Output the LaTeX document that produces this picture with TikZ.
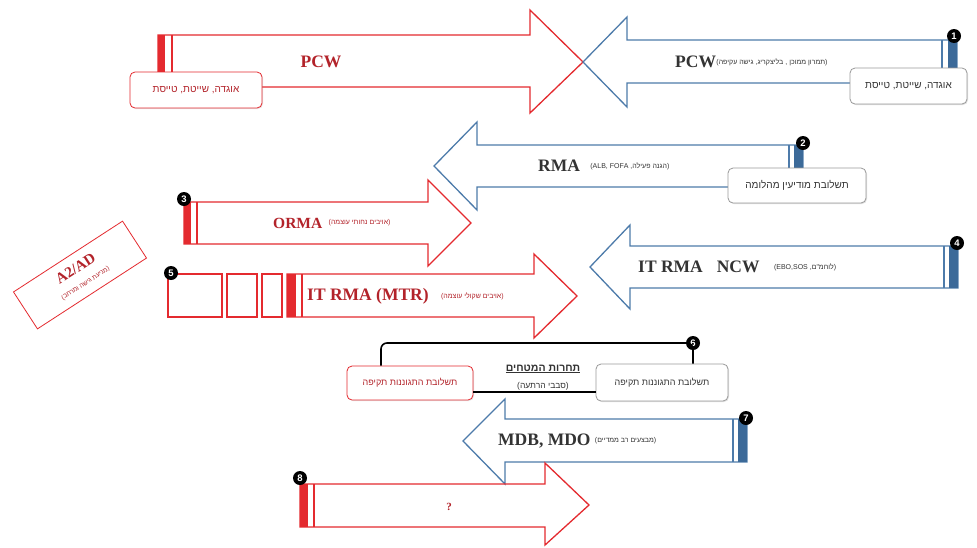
\documentclass[tikz,border=0pt]{standalone}
\usepackage{fontspec}
\setmainfont{Liberation Serif}
\newfontfamily\heb[Script=Hebrew]{Liberation Sans}
\newfontfamily\numf{Liberation Sans}
\newcommand\hlp{{\numf(}}
\newcommand\hrp{{\numf)}}
\TeXXeTstate=1
\usetikzlibrary{shadows}
\definecolor{ared}{HTML}{E42A2F}
\definecolor{tred}{HTML}{B3232A}
\definecolor{ablue}{HTML}{4D7BAA}
\definecolor{bbar}{HTML}{3C6A99}
\definecolor{tgray}{HTML}{333333}
\definecolor{boxgray}{HTML}{9A9A9A}
\begin{document}
\begin{tikzpicture}[x=1pt,y=-1pt,
  redline/.style={draw=ared, line width=1.3pt, line join=miter},
  blueline/.style={draw=ablue, line width=1.3pt, line join=miter},
  redthin/.style={draw=ared, line width=1.1pt},
  bluethin/.style={draw=ablue, line width=1.1pt},
  numc/.style={circle, fill=black, text=white, inner sep=0pt, minimum size=14pt, font=\numf\bfseries\fontsize{9.5}{9.5}\selectfont},
  ttl/.style={font=\bfseries\fontsize{17.5}{17.5}\selectfont, inner sep=0pt},
  hsmall/.style={font=\heb\fontsize{7}{8}\selectfont, inner sep=0pt},
  graybox/.style={draw=boxgray, line width=0.8pt, rounded corners=5pt, fill=white, text=tgray, inner sep=0pt,
     drop shadow={opacity=0.25, shadow xshift=1pt, shadow yshift=-1pt}, font=\heb\fontsize{10}{11}\selectfont},
  redbox/.style={draw=ared, line width=0.8pt, rounded corners=5pt, fill=white, text=tred, inner sep=0pt,
     drop shadow={opacity=0.2, shadow xshift=1pt, shadow yshift=-1pt}, font=\heb\fontsize{10}{11}\selectfont}
]
\useasboundingbox (0,0) rectangle (977,547);
\fill[white] (0,0) rectangle (977,547);

% ---------- Arrow 1 (red, PCW) ----------
\draw[redline] (158,35) -- (530,35) -- (530,10) -- (583,62) -- (530,113) -- (530,87) -- (158,87) -- cycle;
\fill[ared] (158,35) rectangle (165,87);
\draw[redthin] (172,35) -- (172,87);
\node[redbox, minimum width=132pt, minimum height=36pt] (b1l) at (196,90) {\beginR אוגדה, שייטת, טייסת\endR};
\node[ttl, text=tred] (t1l) at (321,62) {PCW};

% ---------- Arrow 1 (blue, PCW) ----------
\draw[blueline] (957,40) -- (627,40) -- (627,17) -- (583,62) -- (627,107) -- (627,83) -- (957,83) -- cycle;
\fill[bbar] (948,40) rectangle (957,83);
\draw[bluethin] (942,40) -- (942,83);
\node[graybox, minimum width=117pt, minimum height=36pt] (b1r) at (908.5,86) {\beginR אוגדה, שייטת, טייסת\endR};
\node[ttl, text=tgray, anchor=west] (t1r) at (675,62) {PCW};
\node[hsmall, text=tgray, anchor=west] (h1r) at (t1r.east) {\hlp{\beginR תמרון ממוכן , בליצקריג, גישה עקיפה\endR}\hrp};
\node[numc] (n1) at (954,36) {1};

% ---------- Arrow 2 (blue, RMA) ----------
\draw[blueline] (803,145) -- (477,145) -- (477,122) -- (434,166) -- (477,210) -- (477,187) -- (803,187) -- cycle;
\fill[bbar] (794,145) rectangle (803,187);
\draw[bluethin] (789,145) -- (789,187);
\node[graybox, minimum width=138pt, minimum height=35pt] (b2) at (797,185.5) {\beginR תשלובת מודיעין מהלומה\endR};
\node[ttl, text=tgray, anchor=west] (t2) at (538,166) {RMA};
\node[hsmall, text=tgray, anchor=west] (h2) at ([xshift=10pt]t2.east) {\hlp ALB, FOFA ,{\beginR הגנה פעילה\endR}\hrp};
\node[numc] (n2) at (803,143) {2};

% ---------- Arrow 3 (red, ORMA) ----------
\draw[redline] (184,202) -- (428,202) -- (428,180) -- (471,223) -- (428,266) -- (428,244) -- (184,244) -- cycle;
\fill[ared] (184,202) rectangle (191,244);
\draw[redthin] (197,202) -- (197,244);
\node[ttl, text=tred, anchor=west, font=\bfseries\fontsize{15.5}{16}\selectfont] (t3) at (273,223) {ORMA};
\node[hsmall, text=tred, anchor=west] (h3) at ([xshift=6pt]t3.east) {\hlp{\beginR אויבים נחותי עוצמה\endR}\hrp};
\node[numc] (n3) at (184,199) {3};

% ---------- Arrow 4 (blue, IT RMA NCW) ----------
\draw[blueline] (958,246) -- (630,246) -- (630,225) -- (590,267) -- (630,309) -- (630,288) -- (958,288) -- cycle;
\fill[bbar] (949,246) rectangle (958,288);
\draw[bluethin] (944,246) -- (944,288);
\node[ttl, text=tgray, anchor=west] (t4) at (638,267) {IT RMA\hspace{14pt}NCW};
\node[hsmall, text=tgray, anchor=west] (h4) at ([xshift=14pt]t4.east) {\hlp EBO,SOS ,{\beginR לוחמ"ם\endR}\hrp};
\node[numc] (n4) at (957,243) {4};

% ---------- Arrow 5 (red, IT RMA (MTR)) ----------
\draw[redline] (287,274) -- (534,274) -- (534,254) -- (577,296) -- (534,338) -- (534,317) -- (287,317) -- cycle;
\fill[ared] (287,274) rectangle (296,317);
\draw[redthin] (302,274) -- (302,317);
\draw[redline] (168,274) rectangle (222,317);
\draw[redline] (227,274) rectangle (257,317);
\draw[redline] (262,274) rectangle (282,317);
\node[ttl, text=tred, anchor=west] (t5) at (307,296) {IT RMA (MTR)};
\node[hsmall, text=tred, anchor=west] (h5) at ([xshift=12pt]t5.east) {\hlp{\beginR אויבים שקולי עוצמה\endR}\hrp};
\node[numc] (n5) at (171,273) {5};

% ---------- Group 6 ----------
\node[redbox, minimum width=126pt, minimum height=34pt, font=\heb\fontsize{9}{10}\selectfont] (g6l) at (410,383) {\beginR תשלובת התגוננות תקיפה\endR};
\node[graybox, minimum width=132pt, minimum height=37pt, font=\heb\fontsize{9}{10}\selectfont] (g6r) at (662,382.5) {\beginR תשלובת התגוננות תקיפה\endR};
\node[numc] (n6) at (693,343) {6};
\draw[black, line width=1.6pt, rounded corners=6pt] ([xshift=-29pt]g6l.north) |- (n6.center) -- (n6.center |- g6r.north);
\draw[black, line width=1.6pt] ([yshift=-9pt]g6l.east) -- ([yshift=-9pt]g6l.east -| g6r.west);
\node[font=\heb\bfseries\fontsize{10.5}{11}\selectfont, text=tgray, inner sep=0pt] (t6) at (543,369) {\underline{\beginR תחרות המטחים\endR}};
\node[font=\heb\fontsize{8.5}{9}\selectfont, text=tgray, inner sep=0pt] (h6) at (543,386) {\hlp{\beginR סבבי הרתעה\endR}\hrp};

% ---------- Arrow 7 (blue, MDB, MDO) ----------
\draw[blueline] (747,419) -- (505,419) -- (505,399) -- (463,441) -- (505,484) -- (505,462) -- (747,462) -- cycle;
\fill[bbar] (738,419) rectangle (747,462);
\draw[bluethin] (733,419) -- (733,462);
\node[ttl, text=tgray, anchor=west] (t7) at (498,441) {MDB, MDO};
\node[hsmall, text=tgray, anchor=west] (h7) at ([xshift=4pt]t7.east) {\hlp{\beginR מבצעים רב ממדיים\endR}\hrp};
\node[numc] (n7) at (746,418) {7};

% ---------- Arrow 8 (red, ?) ----------
\draw[redline] (300,484) -- (545,484) -- (545,463) -- (589,505) -- (545,545) -- (545,527) -- (300,527) -- cycle;
\fill[ared] (300,484) rectangle (308,527);
\draw[redthin] (314,484) -- (314,527);
\node[font=\bfseries\fontsize{11}{11}\selectfont, text=tred, inner sep=0pt] (t8) at (449,507) {?};
\node[numc] (n8) at (300,478) {8};

% ---------- A2/AD ----------
\node[draw=ared, line width=0.8pt, rotate=33, minimum width=130pt, minimum height=44pt, align=center, inner sep=1pt, text=tred] (a2ad) at (80,275)
  {{\bfseries\fontsize{15}{15}\selectfont A2/AD}\\[3pt]{\heb\fontsize{6.5}{7}\selectfont \hlp{\beginR מניעת גישה ומרחב\endR}\hrp}};
\end{tikzpicture}
\end{document}
